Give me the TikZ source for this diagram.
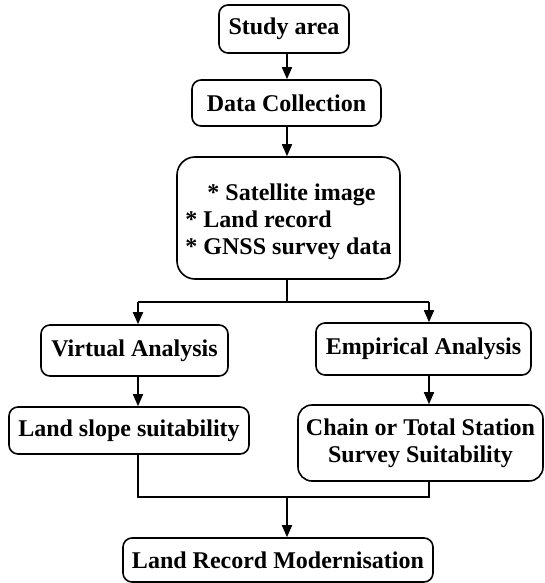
\documentclass[tikz,border=0pt]{standalone}
\usepackage{fontspec}
\setmainfont{Liberation Serif}
\usetikzlibrary{arrows.meta}
\begin{document}
\begin{tikzpicture}[x=1pt,y=-1pt,
  box/.style={draw, line width=1.6pt, rounded corners=9pt, inner sep=0pt,
    font=\fontsize{24}{27}\selectfont\bfseries, align=center},
  conn/.style={line width=1.6pt},
  arr/.style={line width=1.6pt, -{Triangle[width=10pt,length=12pt]}}]
\useasboundingbox (0,0) rectangle (544,583);
\node[box, minimum width=130pt, minimum height=48pt] (study) at (284,29) {Study area};
\node[box, minimum width=189pt, minimum height=46pt] (data) at (286.5,103) {Data Collection};
\node[box, rounded corners=18pt, minimum width=223pt, minimum height=122pt, align=left] (sources) at (288.5,218)
  {\rule{0pt}{25pt}\hspace*{22pt}* Satellite image\\* Land record\\* GNSS survey data};
\node[box, minimum width=187pt, minimum height=51pt] (virt) at (134.5,350.5) {Virtual Analysis};
\node[box, minimum width=240pt, minimum height=47pt] (slope) at (129,430.5) {Land slope suitability};
\node[box, minimum width=215pt, minimum height=52pt] (emp) at (423.5,349) {Empirical Analysis};
\node[box, rounded corners=14pt, minimum width=245pt, minimum height=76pt] (chain) at (420.5,443) {Chain or Total Station\\Survey Suitability};
\node[box, minimum width=310pt, minimum height=44pt] (final) at (278,560) {Land Record Modernisation};
\coordinate (c1) at (287,0);
\coordinate (split) at (287,302);
\coordinate (lj) at (138,302);
\coordinate (rj) at (429,302);
\coordinate (bl) at (138,497);
\coordinate (br) at (429,497);
\coordinate (bm) at (287,497);
\draw[arr] (study.south -| c1) -- (data.north -| c1);
\draw[arr] (data.south -| c1) -- (sources.north -| c1);
\draw[conn] (sources.south -| split) -- (split);
\draw[conn] (lj) -- (rj);
\draw[arr] (lj) -- (lj |- virt.north);
\draw[arr] (rj) -- (rj |- emp.north);
\draw[arr] (virt.south -| lj) -- (slope.north -| lj);
\draw[arr] (emp.south -| rj) -- (chain.north -| rj);
\draw[conn] (slope.south -| bl) -- (bl) -- (br) -- (chain.south -| br);
\draw[arr] (bm) -- (final.north -| bm);
\end{tikzpicture}
\end{document}
